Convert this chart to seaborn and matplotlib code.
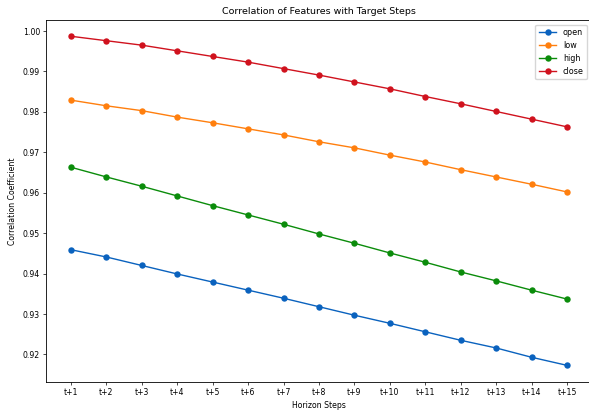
import pandas as pd
import seaborn as sns
import matplotlib.pyplot as plt

#%% Data
steps = ["t+%d" % i for i in range(1, 16)]

open_corr = [0.9459, 0.9441, 0.9420, 0.9399, 0.9379, 0.9359, 0.9339, 0.9318,
             0.9297, 0.9277, 0.9256, 0.9235, 0.9216, 0.9193, 0.9173]
low_corr = [0.9829, 0.9815, 0.9803, 0.9787, 0.9773, 0.9758, 0.9743, 0.9726,
            0.9711, 0.9693, 0.9676, 0.9657, 0.9639, 0.9621, 0.9602]
high_corr = [0.9663, 0.9639, 0.9616, 0.9592, 0.9568, 0.9545, 0.9522, 0.9498,
             0.9475, 0.9451, 0.9428, 0.9404, 0.9382, 0.9359, 0.9337]
close_corr = [0.9987, 0.9976, 0.9965, 0.9951, 0.9937, 0.9923, 0.9907, 0.9891,
              0.9874, 0.9857, 0.9838, 0.9820, 0.9801, 0.9782, 0.9763]

features = ["open", "low", "high", "close"]
colors = ["#0a62be", "#ff7f0e", "#0b8c0b", "#d0121e"]

#%% Long-form table
df = pd.DataFrame({
    "step": steps * 4,
    "corr": open_corr + low_corr + high_corr + close_corr,
    "feature": sum([[f] * len(steps) for f in features], []),
})

#%% Plot
fig = plt.figure(figsize=(5.89, 4.12), dpi=100)
ax = fig.add_axes([0.0784, 0.0733, 0.9263, 0.8786])

sns.lineplot(data=df, x="step", y="corr", hue="feature", palette=colors,
             marker="o", markersize=4.6, markeredgewidth=0, linewidth=1.0,
             sort=False, ax=ax)

handles, labels = ax.get_legend_handles_labels()
ax.legend(handles, labels, loc="upper right", fontsize=5.8, borderaxespad=0.6,
          frameon=True, handlelength=2.2)

ax.set_title("Correlation of Features with Target Steps", fontsize=6.8, pad=4)
ax.set_xlabel("Horizon Steps", fontsize=5.6, labelpad=3)
ax.set_ylabel("Correlation Coefficient", fontsize=5.6, labelpad=4)
ax.tick_params(labelsize=5.6, width=0.5, length=2.5, pad=2)
for s in ax.spines.values():
    s.set_linewidth(0.6)

fig.savefig("out.png", dpi=100)
